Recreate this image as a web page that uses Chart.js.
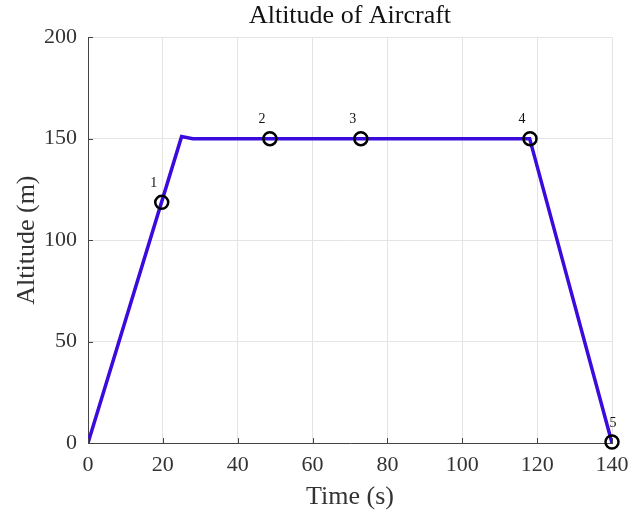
<!DOCTYPE html>
<html>
<head>
<meta charset="utf-8">
<script src="https://cdn.jsdelivr.net/npm/chart.js@4"></script>
<style>
  html, body { margin: 0; padding: 0; background: #fff; }
  #wrap { width: 633px; height: 514px; }
</style>
</head>
<body>
<div id="wrap"><canvas id="altChart" width="633" height="514"></canvas></div>
<script>
// flight path (time in s, altitude in m)
const pathTime = [0, 25, 28, 118, 140];
const pathAlt = [0, 151, 150, 150, 0];

// numbered waypoints
const markTime = [19.7, 48.6, 72.9, 118.1, 140];
const markAlt = [118.6, 150, 150, 150, 0.5];
const markNames = ["1", "2", "3", "4", "5"];

const xTicks = [0, 20, 40, 60, 80, 100, 120, 140];
const yTicks = [0, 50, 100, 150, 200];

const serif = "'Liberation Serif', 'DejaVu Serif', serif";

const toPoints = (xs, ys) => xs.map((x, i) => ({ x: x, y: ys[i] }));

// labels next to the circles + inward tick marks like the original
const extras = {
    id: 'extras',
    afterDatasetsDraw(chart) {
        const ctx = chart.ctx;
        const meta = chart.getDatasetMeta(1);
        ctx.save();
        ctx.font = "14px " + serif;
        ctx.fillStyle = "#111";
        ctx.textAlign = "center";
        ctx.textBaseline = "middle";
        meta.data.forEach((pt, i) => {
            const dx = i === markNames.length - 1 ? 1 : -8;
            ctx.fillText(markNames[i], pt.x + dx, pt.y - 19);
        });

        const xs = chart.scales.x, ys = chart.scales.y;
        const area = chart.chartArea;
        ctx.strokeStyle = "#444";
        ctx.lineWidth = 1;
        ctx.beginPath();
        xTicks.forEach(v => {
            const px = Math.round(xs.getPixelForValue(v)) + 0.5;
            ctx.moveTo(px, area.bottom);
            ctx.lineTo(px, area.bottom - 5);
        });
        yTicks.forEach(v => {
            const py = Math.round(ys.getPixelForValue(v)) + 0.5;
            ctx.moveTo(area.left, py);
            ctx.lineTo(area.left + 5, py);
        });
        ctx.stroke();
        ctx.restore();
    }
};

new Chart(document.getElementById('altChart').getContext('2d'), {
    type: 'scatter',
    data: {
        datasets: [
            {
                label: 'Altitude',
                data: toPoints(pathTime, pathAlt),
                showLine: true,
                borderColor: '#3a0bdc',
                borderWidth: 3.5,
                pointRadius: 0,
                tension: 0,
                order: 2
            },
            {
                label: 'Waypoints',
                data: toPoints(markTime, markAlt),
                showLine: false,
                clip: false,
                pointRadius: 6.5,
                pointBorderWidth: 2.5,
                pointBorderColor: '#000',
                pointBackgroundColor: 'rgba(0,0,0,0)',
                order: 1
            }
        ]
    },
    options: {
        responsive: false,
        animation: false,
        layout: { padding: { right: 21, left: 0, top: 0, bottom: 0 } },
        scales: {
            x: {
                type: 'linear',
                min: 0,
                max: 140,
                afterBuildTicks: s => { s.ticks = xTicks.map(v => ({ value: v })); },
                afterFit: s => { s.height = 71; s.paddingRight = 0; s.paddingLeft = 0; },
                grid: { color: '#e4e4e4', drawTicks: false },
                border: { color: '#444', width: 1 },
                ticks: {
                    padding: 9,
                    color: '#333',
                    font: { family: serif, size: 22 },
                    maxRotation: 0
                },
                title: {
                    display: true,
                    text: 'Time (s)',
                    color: '#333',
                    font: { family: serif, size: 26 },
                    padding: { top: 0, bottom: 1 }
                }
            },
            y: {
                type: 'linear',
                min: 0,
                max: 200,
                afterBuildTicks: s => { s.ticks = yTicks.map(v => ({ value: v })); },
                afterFit: s => { s.width = 88; },
                grid: { color: '#e4e4e4', drawTicks: false },
                border: { color: '#444', width: 1 },
                ticks: {
                    padding: 11,
                    color: '#333',
                    font: { family: serif, size: 22 }
                },
                title: {
                    display: true,
                    text: 'Altitude (m)',
                    color: '#333',
                    font: { family: serif, size: 26 },
                    padding: { top: 12, bottom: 0 }
                }
            }
        },
        plugins: {
            legend: { display: false },
            tooltip: { enabled: false },
            title: {
                display: true,
                text: 'Altitude of Aircraft',
                fullSize: false,
                color: '#111',
                font: { family: serif, size: 26, weight: 'normal' },
                padding: { top: 1, bottom: 5 }
            }
        }
    },
    plugins: [extras]
});
</script>
</body>
</html>
